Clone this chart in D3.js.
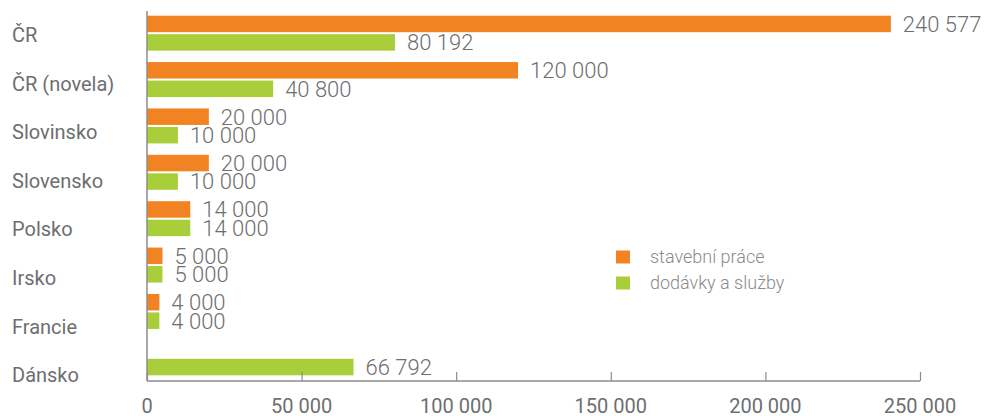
<!DOCTYPE html>
<html>
<head>
<meta charset="utf-8">
<script src="https://cdn.jsdelivr.net/npm/d3@7"></script>
<style>
  html, body { margin: 0; padding: 0; background: #fff; }
  svg { display: block; }
  text { font-family: Roboto, "Open Sans", sans-serif; }
</style>
</head>
<body>
<svg id="chart" width="989" height="416"></svg>
<script>
const categories = ["ČR", "ČR (novela)", "Slovinsko", "Slovensko", "Polsko", "Irsko", "Francie", "Dánsko"];
const stavebniPrace = [240577, 120000, 20000, 20000, 14000, 5000, 4000, null];
const dodavkySluzby = [80192, 40800, 10000, 10000, 14000, 5000, 4000, 66792];
const seriesNames = ["stavební práce", "dodávky a služby"];
const seriesColors = ["#f28322", "#a8ce3a"];
const xTicks = [0, 50000, 100000, 150000, 200000, 250000];

const fmt = v => d3.format(",")(v).replace(/,/g, " ");

const svg = d3.select("#chart");
const x = d3.scaleLinear().domain([0, 250000]).range([147, 920]);
const yBand = d3.scaleBand().domain(categories).range([10, 381]);
const yLabel = d3.scalePoint().domain(categories).range([35, 375]);
const barH = 16.5, gap = 2;

const series = [stavebniPrace, dodavkySluzby];
const gray = "#6d6e71";
const axisGray = "#8c8c8c";

// bars
series.forEach((vals, si) => {
  const data = categories.map((c, i) => ({ c, v: vals[i] })).filter(d => d.v != null);
  const groupTop = d => yBand(d.c) + yBand.bandwidth() / 2 - (barH * 2 + gap) / 2;
  const yPos = d => groupTop(d) + si * (barH + gap);
  svg.append("g").selectAll("rect").data(data).join("rect")
    .attr("x", x(0))
    .attr("y", yPos)
    .attr("width", d => x(d.v) - x(0))
    .attr("height", barH)
    .attr("fill", seriesColors[si]);
  svg.append("g").selectAll("text").data(data).join("text")
    .attr("x", d => x(d.v) + 12)
    .attr("y", d => yPos(d) + barH / 2)
    .attr("dy", "0.36em")
    .attr("font-size", 22)
    .attr("font-weight", 300)
    .attr("fill", gray)
    .text(d => fmt(d.v));
});

// category labels
svg.append("g").selectAll("text").data(categories).join("text")
  .attr("x", 12)
  .attr("y", d => yLabel(d))
  .attr("dy", "0.36em")
  .attr("font-size", 20)
  .attr("fill", gray)
  .text(d => d);

// axes
const axisY = 381;
svg.append("line")
  .attr("x1", x(0)).attr("x2", x(0))
  .attr("y1", 11).attr("y2", axisY)
  .attr("stroke", axisGray).attr("stroke-width", 1.5);

const xAxis = d3.axisTop(x).tickValues(xTicks).tickSize(9).tickFormat("");
const gx = svg.append("g").attr("transform", `translate(0,${axisY})`).call(xAxis);
gx.select(".domain").attr("stroke", axisGray).attr("stroke-width", 1.5)
  .attr("d", `M${x(0)},0H${x(250000)}`);
gx.selectAll(".tick line").attr("stroke", axisGray).attr("stroke-width", 1.2);

svg.append("g").selectAll("text").data(xTicks).join("text")
  .attr("x", d => x(d))
  .attr("y", 405.5)
  .attr("dy", "0.36em")
  .attr("text-anchor", "middle")
  .attr("font-size", 20)
  .attr("fill", gray)
  .text(d => fmt(d));

// legend
const legend = svg.append("g");
seriesNames.forEach((name, i) => {
  const ly = 257 + i * 26;
  legend.append("rect")
    .attr("x", 616).attr("y", ly - 6.5)
    .attr("width", 14).attr("height", 13)
    .attr("fill", seriesColors[i]);
  legend.append("text")
    .attr("x", 650).attr("y", ly)
    .attr("dy", "0.36em")
    .attr("font-size", 18)
    .attr("font-weight", 300)
    .attr("fill", "#8a8a8a")
    .text(name);
});
</script>
</body>
</html>
